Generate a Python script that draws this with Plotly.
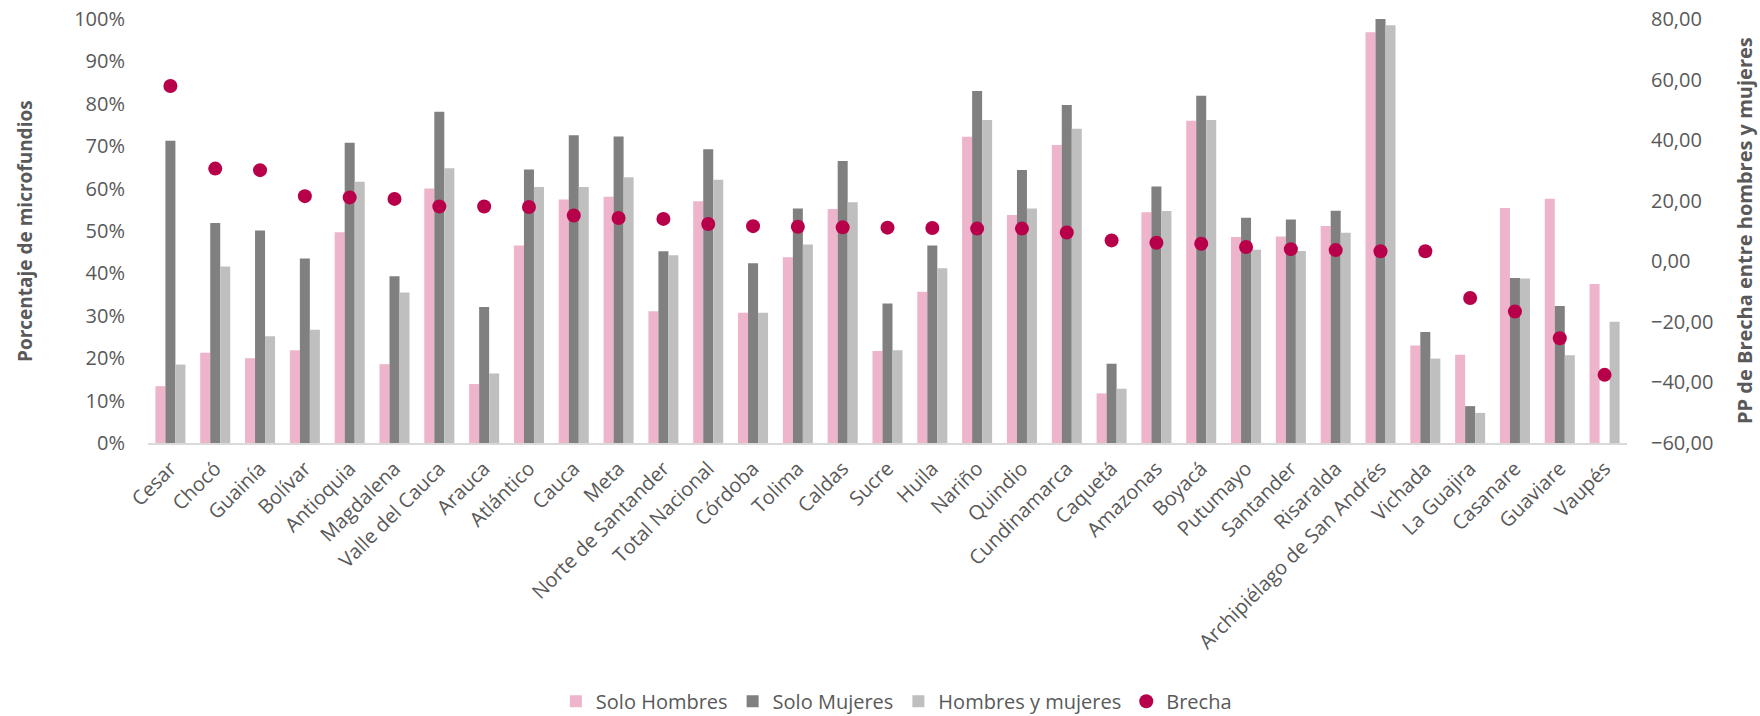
import plotly.graph_objects as go

categorias = ["Cesar", "Chocó", "Guainía", "Bolívar", "Antioquia", "Magdalena", "Valle del Cauca",
              "Arauca", "Atlántico", "Cauca", "Meta", "Norte de Santander", "Total Nacional",
              "Córdoba", "Tolima", "Caldas", "Sucre", "Huila", "Nariño", "Quindio", "Cundinamarca",
              "Caquetá", "Amazonas", "Boyacá", "Putumayo", "Santander", "Risaralda",
              "Archipiélago de San Andrés", "Vichada", "La Guajira", "Casanare", "Guaviare", "Vaupés"]

solo_hombres = [13.4, 21.3, 20.0, 21.9, 49.7, 18.6, 60.0, 13.9, 46.6, 57.4, 58.1, 31.1, 57.0,
                30.7, 43.8, 55.2, 21.7, 35.7, 72.2, 53.8, 70.3, 11.7, 54.4, 76.0, 48.6, 48.7,
                51.2, 96.9, 23.0, 20.8, 55.4, 57.6, 37.5]

solo_mujeres = [71.3, 51.9, 50.1, 43.5, 70.8, 39.3, 78.1, 32.1, 64.5, 72.6, 72.3, 45.2, 69.3,
                42.4, 55.3, 66.5, 32.9, 46.6, 83.0, 64.4, 79.7, 18.7, 60.5, 81.9, 53.1, 52.7,
                54.8, 100.0, 26.2, 8.7, 38.9, 32.3, 0.0]

hombres_y_mujeres = [18.5, 41.6, 25.2, 26.7, 61.6, 35.5, 64.8, 16.4, 60.4, 60.4, 62.7, 44.3, 62.1,
                     30.7, 46.8, 56.8, 21.9, 41.2, 76.2, 55.3, 74.1, 12.8, 54.7, 76.2, 45.6, 45.3,
                     49.6, 98.5, 19.9, 7.1, 38.8, 20.7, 28.6]

brecha = [57.9, 30.6, 30.1, 21.5, 21.1, 20.6, 18.1, 18.1, 17.9, 15.1, 14.3, 14.0, 12.3,
          11.6, 11.4, 11.2, 11.1, 11.0, 10.8, 10.8, 9.5, 6.9, 6.1, 5.8, 4.7, 4.0,
          3.7, 3.3, 3.3, -12.1, -16.6, -25.4, -37.5]

FONT = "Open Sans"
GRIS_TXT = "#595959"
FS = 20

fig = go.Figure()
fig.add_trace(go.Bar(x=categorias, y=solo_hombres, name="Solo Hombres",
                     marker=dict(color="#EEB4CB", line=dict(width=0))))
fig.add_trace(go.Bar(x=categorias, y=solo_mujeres, name="Solo Mujeres",
                     marker=dict(color="#808080", line=dict(width=0))))
fig.add_trace(go.Bar(x=categorias, y=hombres_y_mujeres, name="Hombres y mujeres",
                     marker=dict(color="#BFBFBF", line=dict(width=0))))
fig.add_trace(go.Scatter(x=categorias, y=brecha, name="Brecha", mode="markers", yaxis="y2",
                         marker=dict(color="#B8004A", size=14)))

fig.update_layout(
    width=1760, height=716,
    paper_bgcolor="white", plot_bgcolor="white",
    separators=",.",
    font=dict(family=FONT, size=FS, color=GRIS_TXT),
    margin=dict(l=148, r=133, t=19, b=272.5, autoexpand=False),
    barmode="group", bargap=0.33, bargroupgap=0,
    showlegend=True,
    legend=dict(orientation="h", x=0.506, xanchor="center", y=-0.609, yanchor="middle",
                font=dict(family=FONT, size=FS, color=GRIS_TXT),
                itemwidth=30, traceorder="normal"),
    xaxis=dict(type="category", range=[-0.5, len(categorias) - 0.5], tickangle=-45,
               showgrid=False, showline=True,
               linecolor="#D9D9D9", linewidth=2, ticks="", automargin=False,
               ticklabelstandoff=4,
               tickfont=dict(family=FONT, size=FS, color=GRIS_TXT)),
    yaxis=dict(range=[0, 100], dtick=10, ticksuffix="%", showgrid=False, zeroline=False,
               showline=False, ticks="", ticklabelstandoff=22, automargin=False,
               tickfont=dict(family=FONT, size=FS, color=GRIS_TXT)),
    yaxis2=dict(range=[-60, 80], dtick=20, tickformat=".2f", overlaying="y", side="right",
                showgrid=False, zeroline=False, showline=False, ticks="",
                ticklabelstandoff=23, automargin=False,
                tickfont=dict(family=FONT, size=FS, color=GRIS_TXT)),
    annotations=[
        dict(text="<b>Porcentaje de microfundios</b>", xref="paper", yref="paper",
             x=0, y=0.5, xshift=-123, textangle=-90, showarrow=False,
             xanchor="center", yanchor="middle",
             font=dict(family=FONT, size=19, color=GRIS_TXT)),
        dict(text="<b>PP de Brecha entre hombres y mujeres</b>", xref="paper", yref="paper",
             x=1, y=0.5, xshift=117, textangle=-90, showarrow=False,
             xanchor="center", yanchor="middle",
             font=dict(family=FONT, size=20, color=GRIS_TXT)),
    ],
)

fig.write_html("out.html", config={"displayModeBar": False},
               post_script="document.body.style.margin='0';document.body.style.overflow='hidden';")
